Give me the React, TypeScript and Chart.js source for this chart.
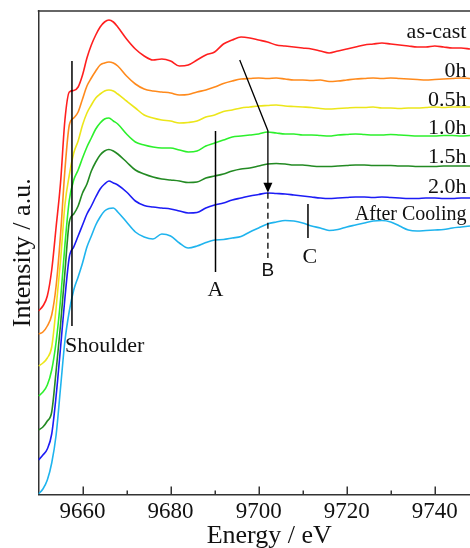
import { useEffect, useRef } from "react";
import { Chart, registerables } from "chart.js";

Chart.register(...registerables);

// ---------------- data ----------------
const energies = [
  9650, 9651, 9652, 9653, 9654, 9655, 9656, 9657, 9658, 9659,
  9660, 9661, 9662, 9663, 9664, 9665, 9666, 9667, 9668,
  9670, 9672, 9674, 9676, 9678, 9680, 9682, 9684, 9686, 9688,
  9690, 9692, 9694, 9696, 9698, 9700, 9702, 9704, 9706, 9708,
  9710, 9712, 9714, 9716, 9718, 9720, 9722, 9724, 9726, 9728,
  9730, 9732, 9734, 9736, 9738, 9740, 9742, 9744, 9746, 9748,
];

const asCast = [
  184, 189, 199, 225, 268, 312, 375, 403, 404.5, 408,
  420, 437, 450, 460, 468, 473, 475, 473, 468,
  456, 446, 439, 435, 436, 434, 429, 430, 435, 440,
  443, 451, 455, 458, 457, 455, 453, 450, 449, 448,
  447, 446, 444, 442, 444, 446, 448, 450, 451, 452,
  451, 450, 449, 448, 448, 449, 448, 447, 447, 446,
];

const h00 = [
  161, 163, 169, 180, 209, 260, 325, 370, 377, 383,
  396, 409, 417, 424, 430, 432, 433, 432, 429,
  419, 411, 406, 404, 403, 402, 400, 400.5, 403, 405,
  408, 411.5, 414, 416, 416.5, 417, 416.5, 417, 416, 415,
  415, 414.5, 415, 413.5, 414, 415, 416, 416.5, 417, 416.5,
  417, 416.5, 416, 415.5, 415, 415.5, 416, 416.5, 417, 416.5,
];

const h05 = [
  129, 132, 137, 148, 187, 234, 290, 320, 342, 354,
  370, 382, 390, 397, 401, 404, 405, 404, 401,
  394, 387, 380, 377, 375, 374, 372, 372.5, 374, 378,
  380, 383.5, 385, 387, 388, 389, 389.5, 390, 389, 388.5,
  388, 387.5, 386.5, 386, 386.5, 387, 387.5, 387.5, 388, 387,
  387, 386.5, 387, 387, 387.5, 388, 387.5, 388, 388, 388,
];

const h10 = [
  99, 103, 110, 125, 153, 195, 250, 295, 315, 325,
  337, 348, 357, 366, 372, 376, 377, 374, 371,
  361, 353, 350, 348, 347, 347, 345, 343, 344, 349,
  352, 355, 358, 359, 360, 361, 363, 362, 361, 361,
  360, 360, 359.5, 359, 360, 360.5, 361, 360.5, 360, 360,
  360.5, 360, 359.5, 359, 359, 359, 359.5, 359.5, 359, 359.5,
];

const h15 = [
  65, 68, 74, 83, 124, 170, 223, 273, 281, 289,
  302, 311, 324, 333, 340, 344, 345.5, 344, 341,
  333, 325, 321, 318, 316, 315, 314, 312.5, 313, 317,
  319, 321, 324, 326, 327, 329, 331, 331.5, 331, 330,
  330, 329, 328.5, 328.5, 329, 329.5, 330, 330, 329.5, 329.5,
  329.5, 329, 329, 328.5, 328.5, 328.5, 329, 329, 329, 329,
];

const h20 = [
  35, 40, 46, 61, 99, 147, 197, 238, 248, 259,
  270, 281, 289, 298, 306, 311, 314, 312, 310,
  303, 294, 289.5, 288, 287, 286, 284, 282, 282.5, 287,
  290, 292, 295, 297, 299, 300.5, 302, 301.5, 301, 300,
  299, 298, 297, 296.5, 297, 297.5, 298, 298, 297.5, 298,
  297.5, 297, 296.5, 296.5, 297, 297, 296.5, 296.5, 297, 297,
];

const afterCooling = [
  1, 6, 15, 32, 60, 107, 154, 184, 205, 218,
  232, 248, 259, 270, 278, 284, 286.5, 287, 283,
  273, 263, 258, 256, 261, 259, 252, 247, 249, 252.5,
  255, 255.5, 257, 258.5, 263, 267, 271, 273, 274.5, 274,
  272, 269, 267, 264.5, 265.5, 268, 270, 272, 274, 274.5,
  273, 269, 265, 264, 264.5, 265, 265.5, 267, 268, 269,
];

const seriesValues = [asCast, h00, h05, h10, h15, h20, afterCooling];
const seriesNames = ["as-cast", "0h", "0.5h", "1.0h", "1.5h", "2.0h", "After Cooling"];
const seriesColors = ["#ff1f1f", "#ff8a1c", "#ece61a", "#2cf02c", "#238a23", "#1c1cf5", "#1fb4ee"];

const xMajorTicks = [9660, 9680, 9700, 9720, 9740];
const xMinorTicks = [9670, 9690, 9710, 9730];

// series label anchors (energy, intensity of text baseline)
const seriesLabelEnergy = 9747.2;
const seriesLabelLevels = [456.7, 418.3, 389.3, 361, 331.7, 302.3, 275];

// feature marks
const markLines = [
  { e: 9657.6, from: 169, to: 434 }, // shoulder
  { e: 9690.2, from: 223, to: 364 }, // A
  { e: 9711.2, from: 257, to: 291 }, // C
];
const markTexts = [
  { text: "Shoulder", e: 9656.0, v: 143.3, align: "left" },
  { text: "A", e: 9690.2, v: 199, align: "center" },
  { text: "C", e: 9711.6, v: 232, align: "center" },
];
const arrowB = { startE: 9695.7, startV: 435, cornerE: 9702.1, cornerV: 364.3, tipV: 302.3, dashEndV: 237, labelV: 219 };

const serif = '"Liberation Serif", "Times New Roman", serif';
const sans = '"Liberation Sans", Arial, sans-serif';

const annotationPlugin = {
  id: "xanesAnnotations",
  afterDatasetsDraw(chart: any) {
    const { ctx, chartArea, scales } = chart;
    const xs = scales.x;
    const ys = scales.y;
    const X = (e: number) => xs.getPixelForValue(e);
    const Y = (v: number) => ys.getPixelForValue(v);
    ctx.save();

    // top frame line
    ctx.strokeStyle = "#333";
    ctx.lineWidth = 1.5;
    ctx.beginPath();
    ctx.moveTo(chartArea.left - 0.75, chartArea.top);
    ctx.lineTo(chartArea.right, chartArea.top);
    ctx.stroke();

    // inward ticks (major and minor)
    const tick = (t: number, len: number) => {
      const px = Math.round(X(t)) + 0.25;
      ctx.beginPath();
      ctx.moveTo(px, chartArea.bottom);
      ctx.lineTo(px, chartArea.bottom - len);
      ctx.stroke();
    };
    xMajorTicks.forEach((t) => tick(t, 8));
    xMinorTicks.forEach((t) => tick(t, 4));

    // feature lines
    ctx.strokeStyle = "#000";
    ctx.lineWidth = 1.5;
    markLines.forEach((m) => {
      ctx.beginPath();
      ctx.moveTo(X(m.e), Y(m.from));
      ctx.lineTo(X(m.e), Y(m.to));
      ctx.stroke();
    });

    // arrow to B
    const tipY = Y(arrowB.tipV);
    const bx = X(arrowB.cornerE);
    ctx.lineWidth = 1.3;
    ctx.beginPath();
    ctx.moveTo(X(arrowB.startE), Y(arrowB.startV));
    ctx.lineTo(bx, Y(arrowB.cornerV));
    ctx.lineTo(bx, tipY - 8);
    ctx.stroke();
    ctx.fillStyle = "#000";
    ctx.beginPath();
    ctx.moveTo(bx, tipY);
    ctx.lineTo(bx - 4.5, tipY - 10);
    ctx.lineTo(bx + 4.5, tipY - 10);
    ctx.closePath();
    ctx.fill();
    ctx.setLineDash([6, 4]);
    ctx.beginPath();
    ctx.moveTo(bx, tipY);
    ctx.lineTo(bx, Y(arrowB.dashEndV));
    ctx.stroke();
    ctx.setLineDash([]);

    // texts
    ctx.fillStyle = "#111";
    ctx.textBaseline = "alphabetic";
    ctx.font = `22px ${serif}`;
    markTexts.forEach((t) => {
      ctx.textAlign = t.align as CanvasTextAlign;
      ctx.fillText(t.text, X(t.e), Y(t.v));
    });
    ctx.font = `19px ${sans}`;
    ctx.textAlign = "center";
    ctx.fillText("B", bx, Y(arrowB.labelV));

    // series labels
    ctx.textAlign = "right";
    seriesNames.forEach((name, i) => {
      ctx.font = i === seriesNames.length - 1 ? `20px ${serif}` : `22px ${serif}`;
      ctx.fillText(name, X(seriesLabelEnergy), Y(seriesLabelLevels[i]));
    });

    // x axis title
    ctx.font = `26px ${serif}`;
    ctx.textAlign = "center";
    ctx.fillText("Energy / eV", (chartArea.left + chartArea.right) / 2 + 15, chart.height - 5);

    ctx.restore();
  },
};

export default function App() {
  const canvasRef = useRef<HTMLCanvasElement | null>(null);

  useEffect(() => {
    document.body.style.margin = "0";
    const canvas = canvasRef.current;
    if (!canvas) return;
    const chart = new Chart(canvas, {
      type: "line",
      data: {
        datasets: seriesValues.map((vals, i) => ({
          label: seriesNames[i],
          data: energies.map((e, j) => ({ x: e, y: vals[j] })),
          borderColor: seriesColors[i],
          backgroundColor: seriesColors[i],
          borderWidth: 1.6,
          pointRadius: 0,
          pointHoverRadius: 0,
          pointBorderWidth: 0,
          cubicInterpolationMode: "monotone" as const,
          fill: false,
        })),
      },
      options: {
        animation: false,
        responsive: false,
        devicePixelRatio: 1,
        layout: { autoPadding: false, padding: { top: 11, left: 0, right: 0, bottom: 0 } },
        plugins: { legend: { display: false }, tooltip: { enabled: false } },
        events: [],
        scales: {
          x: {
            type: "linear",
            min: 9650,
            max: 9748,
            afterFit: (s: any) => {
              s.height = 53.5;
            },
            afterBuildTicks: (s: any) => {
              s.ticks = xMajorTicks.map((v) => ({ value: v }));
            },
            ticks: {
              includeBounds: false,
              padding: 5.5,
              color: "#111",
              maxRotation: 0,
              callback: (v: any) => String(v),
              font: { family: serif, size: 23, lineHeight: 1 },
            },
            grid: {
              display: true,
              drawOnChartArea: false,
              drawTicks: false,
              tickLength: 0,
            },
            border: { display: true, color: "#333", width: 1.5 },
          },
          y: {
            type: "linear",
            min: 0.5,
            max: 484,
            afterFit: (s: any) => {
              s.width = 38.5;
            },
            ticks: { display: false },
            grid: { display: false },
            border: { display: true, color: "#333", width: 1.5 },
            title: {
              display: true,
              text: "Intensity / a.u.",
              color: "#111",
              font: { family: serif, size: 26, lineHeight: 1 },
              padding: { top: 10, bottom: 0 },
            },
          },
        },
      },
      plugins: [annotationPlugin],
    });
    return () => chart.destroy();
  }, []);

  return <canvas ref={canvasRef} width={470} height={548} style={{ display: "block" }} />;
}
